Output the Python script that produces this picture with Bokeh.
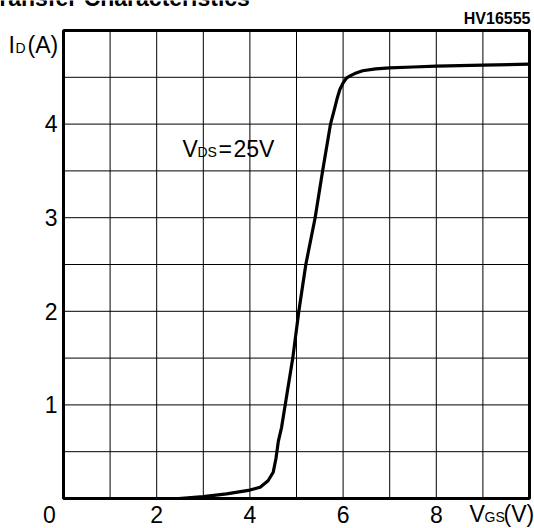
from bokeh.plotting import figure
from bokeh.models import Range1d, Label
from bokeh.embed import file_html
from bokeh.resources import INLINE

# ---- data ----
vgs = [2.47, 3.0, 3.5, 4.0, 4.22, 4.39, 4.5, 4.56, 4.61, 4.68, 4.92, 5.05, 5.2, 5.40,
       5.56, 5.73, 5.82, 5.87, 5.93, 6.0, 6.07, 6.17, 6.25, 6.42, 6.7, 7.0, 7.5, 8.0,
       9.0, 10.0]
id_a = [0.0, 0.02, 0.05, 0.09, 0.12, 0.19, 0.28, 0.43, 0.61, 0.76, 1.5, 2.0, 2.5, 3.0,
        3.5, 4.0, 4.17, 4.27, 4.37, 4.44, 4.49, 4.52, 4.54, 4.57, 4.59, 4.60, 4.61, 4.62,
        4.63, 4.64]

x_tick_vals = [2, 4, 6, 8]
x_tick_labels = ["2", "4", "6", "8"]
y_tick_vals = [1, 2, 3, 4]
y_tick_labels = ["1", "2", "3", "4"]
x_grid_vals = [1, 2, 3, 4, 5, 6, 7, 8, 9]
y_grid_vals = [0.5, 1, 1.5, 2, 2.5, 3, 3.5, 4, 4.5]

X0, X1, Y0, Y1 = 0, 10, 0, 5
FONT = "Liberation Sans"
MAIN = 23
SUB = 14
K = 0.36  # empirical baseline correction (fraction of font size)

# plot box placement (page pixels)
FL, FT, FR, FB = 63, 30, 529, 498
W, H = 534, 528
PX = (FR - FL) / (X1 - X0)
PY = (FB - FT) / (Y1 - Y0)

p = figure(width=W, height=H,
           x_range=Range1d(X0 - FL / PX, X1 + (W - FR) / PX),
           y_range=Range1d(Y0 - (H - FB) / PY, Y1 + FT / PY),
           x_axis_type=None, y_axis_type=None, output_backend="svg",
           toolbar_location=None, min_border=0, title=None)
p.background_fill_color = "white"
p.border_fill_color = "white"
p.outline_line_color = None
p.xgrid.visible = False
p.ygrid.visible = False

# grid
p.segment(x0=x_grid_vals, y0=[Y0] * len(x_grid_vals), x1=x_grid_vals,
          y1=[Y1] * len(x_grid_vals), line_color="black", line_width=1)
p.segment(x0=[X0] * len(y_grid_vals), y0=y_grid_vals, x1=[X1] * len(y_grid_vals),
          y1=y_grid_vals, line_color="black", line_width=1)
# plot box
p.quad(left=[X0], right=[X1], bottom=[Y0], top=[Y1], fill_color=None,
       line_color="black", line_width=3)

# curve
p.line(vgs, id_a, line_color="black", line_width=3.2, line_join="round", line_cap="round")


def put(text, px, py, size=MAIN, align="left", style="normal"):
    """Place text with its baseline at page pixel (px, py)."""
    py = py - K * size
    p.add_layout(Label(x=X0 + (px - FL) / PX, y=Y0 + (FB - py) / PY, text=text,
                       text_font=FONT, text_font_size=f"{size}px", text_align=align,
                       text_baseline="alphabetic", text_color="black",
                       text_font_style=style))


# tick labels through the scales
for v, t in zip(x_tick_vals, x_tick_labels):
    p.add_layout(Label(x=v, y=Y0, y_offset=-24 + K * MAIN, text=t, text_font=FONT,
                       text_font_size=f"{MAIN}px", text_align="center",
                       text_baseline="alphabetic", text_color="black"))
p.add_layout(Label(x=X0, y=Y0, x_offset=-14, y_offset=-24.5 + K * MAIN, text="0",
                   text_font=FONT, text_font_size=f"{MAIN}px", text_align="center",
                   text_baseline="alphabetic", text_color="black"))
for v, t in zip(y_tick_vals, y_tick_labels):
    p.add_layout(Label(x=X0, y=v, x_offset=-6, y_offset=-8 + K * MAIN, text=t,
                       text_font=FONT, text_font_size=f"{MAIN}px", text_align="right",
                       text_baseline="alphabetic", text_color="black"))

# title (cut off at the top of the page) and code
put("Transfer Characteristics", -14, 6, size=23, style="bold")
put("HV16555", 530, 24, size=16, align="right", style="bold")

# axis titles
put("I", 8, 53)
put("D", 15, 53, size=SUB)
put("(A)", 27, 53)
put("V", 469, 522)
put("GS", 484, 522, size=SUB)
put("(V)", 503, 522)

# annotation
put("V", 182, 157)
put("DS", 197, 157, size=SUB)
put("=", 218, 157)
put("25V", 233, 157)

open("out.html", "w").write(file_html(p, INLINE))
